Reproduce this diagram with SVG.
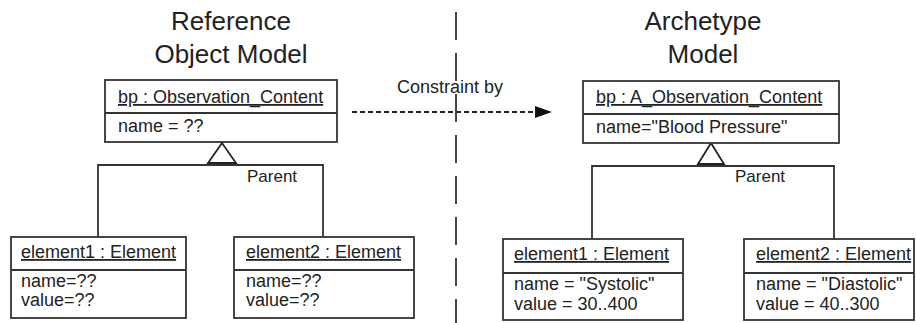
<svg xmlns="http://www.w3.org/2000/svg" width="916" height="323" viewBox="0 0 916 323">
<style>
text{font-family:"Liberation Sans",Arial,sans-serif;fill:#222}
.title{font-size:26px;text-anchor:middle}
.t{font-size:18px}
.u{text-decoration:underline}
.box{fill:#fff;stroke:#333;stroke-width:1.8}
.ln{fill:none;stroke:#333;stroke-width:1.8}
.tri{fill:#fff;stroke:#222;stroke-width:1.8}
</style>
<defs>
<marker id="ah" markerWidth="17" markerHeight="12" refX="17" refY="6" orient="auto" markerUnits="userSpaceOnUse">
<path d="M0,0 L17,6 L0,12 Z" fill="#111"/>
</marker>
</defs>
<g id="titles">
<text class="title" x="231" y="30">Reference</text>
<text class="title" x="231" y="63">Object Model</text>
<text class="title" x="703" y="30">Archetype</text>
<text class="title" x="703" y="63">Model</text>
</g>
<g id="connectors">
<line class="ln" x1="456" y1="12" x2="456" y2="323" stroke-dasharray="28 13"/>
<line x1="352" y1="112" x2="552" y2="112" stroke="#222" stroke-width="2" stroke-dasharray="5 3" marker-end="url(#ah)"/>
<text class="t" x="397" y="93">Constraint by</text>
<polyline class="ln" points="98,237 98,165 323,165 323,237"/>
<line class="ln" x1="222" y1="163" x2="222" y2="165"/>
<polygon class="tri" points="222,143 208,163 236,163"/>
<text class="t" x="247" y="182" style="font-size:17px">Parent</text>
<polyline class="ln" points="592,239 592,166 834,166 834,239"/>
<line class="ln" x1="711" y1="164" x2="711" y2="166"/>
<polygon class="tri" points="711,143 698,164 724,164"/>
<text class="t" x="735" y="182" style="font-size:17px">Parent</text>
</g>
<g id="bp-roc">
<rect class="box" x="105" y="80" width="232" height="62"/>
<line class="ln" x1="105" y1="113" x2="337" y2="113"/>
<text class="t u" x="118" y="103">bp : Observation_Content</text>
<text class="t" x="118" y="132">name = ??</text>
</g>
<g id="element1-roc">
<rect class="box" x="11" y="237" width="175" height="81"/>
<line class="ln" x1="11" y1="270" x2="186" y2="270"/>
<text class="t u" x="21" y="258">element1 : Element</text>
<text class="t" x="21" y="287">name=??</text>
<text class="t" x="21" y="306">value=??</text>
</g>
<g id="element2-roc">
<rect class="box" x="234" y="237" width="180" height="81"/>
<line class="ln" x1="234" y1="270" x2="414" y2="270"/>
<text class="t u" x="246" y="258">element2 : Element</text>
<text class="t" x="246" y="287">name=??</text>
<text class="t" x="246" y="306">value=??</text>
</g>
<g id="bp-am">
<rect class="box" x="583" y="81" width="256" height="62"/>
<line class="ln" x1="583" y1="114" x2="839" y2="114"/>
<text class="t u" x="596" y="103">bp : A_Observation_Content</text>
<text class="t" x="596" y="133">name="Blood Pressure"</text>
</g>
<g id="element1-am">
<rect class="box" x="503" y="239" width="180" height="81"/>
<line class="ln" x1="503" y1="273" x2="683" y2="273"/>
<text class="t u" x="514" y="260">element1 : Element</text>
<text class="t" x="514" y="290">name = "Systolic"</text>
<text class="t" x="514" y="310">value = 30..400</text>
</g>
<g id="element2-am">
<rect class="box" x="744" y="239" width="170" height="81"/>
<line class="ln" x1="744" y1="273" x2="914" y2="273"/>
<text class="t u" x="756" y="260">element2 : Element</text>
<text class="t" x="756" y="290">name = "Diastolic"</text>
<text class="t" x="756" y="310">value = 40..300</text>
</g>
</svg>
